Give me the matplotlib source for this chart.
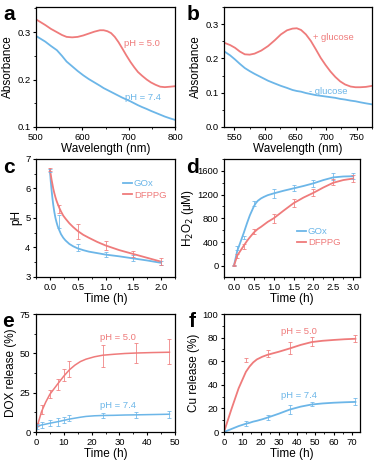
import numpy as np
import matplotlib
matplotlib.use('Agg')
import matplotlib.pyplot as plt
from matplotlib.ticker import AutoMinorLocator

plt.rcParams['font.family'] = ['Liberation Sans', 'DejaVu Sans']
plt.rcParams['axes.linewidth'] = 0.9

red = '#EF7B7B'
blue = '#6CB6E8'

# (a) absorbance vs wavelength, pH 5.0 / 7.4
a_wl = [500, 510, 520, 532, 545, 556, 566, 578, 590, 602, 614, 626, 638, 646, 654, 662, 670, 678,
        686, 695, 704, 712, 720, 729, 739, 748, 758, 768, 778, 790, 800]
a_ph50 = [0.327, 0.321, 0.315, 0.307, 0.300, 0.294, 0.290, 0.289, 0.290, 0.293, 0.297, 0.301, 0.304,
          0.304, 0.302, 0.298, 0.290, 0.279, 0.266, 0.251, 0.237, 0.226, 0.216, 0.208, 0.200, 0.194,
          0.189, 0.185, 0.184, 0.185, 0.186]
a_ph74 = [0.292, 0.286, 0.280, 0.271, 0.262, 0.250, 0.238, 0.228, 0.218, 0.209, 0.201, 0.194, 0.187,
          0.182, 0.178, 0.174, 0.170, 0.166, 0.162, 0.158, 0.154, 0.150, 0.146, 0.142, 0.138, 0.134,
          0.130, 0.126, 0.122, 0.118, 0.115]

# (b) absorbance vs wavelength, +/- glucose
b_wl = [533, 543, 551, 559, 567, 575, 583, 594, 605, 616, 626, 636, 645, 652, 659, 667, 675, 683,
        691, 699, 707, 715, 723, 731, 740, 748, 756, 765, 775]
b_plus = [0.246, 0.239, 0.231, 0.220, 0.212, 0.211, 0.214, 0.223, 0.236, 0.253, 0.270, 0.282, 0.287,
          0.288, 0.283, 0.270, 0.251, 0.227, 0.202, 0.181, 0.162, 0.146, 0.133, 0.124, 0.118, 0.116,
          0.116, 0.117, 0.120]
b_minus = [0.221, 0.209, 0.197, 0.184, 0.172, 0.163, 0.155, 0.145, 0.135, 0.127, 0.120, 0.114, 0.108,
           0.105, 0.103, 0.099, 0.096, 0.093, 0.091, 0.089, 0.087, 0.085, 0.082, 0.080, 0.077, 0.075,
           0.072, 0.069, 0.066]

# (c) pH vs time
c_t = [0.0, 0.17, 0.5, 1.0, 1.5, 2.0]
c_gox = [6.62, 4.89, 4.00, 3.76, 3.65, 3.48]
c_gox_err = [0.05, 0.22, 0.12, 0.08, 0.1, 0.07]
c_dfppg = [6.65, 5.30, 4.54, 4.07, 3.79, 3.52]
c_dfppg_err = [0.05, 0.14, 0.24, 0.15, 0.1, 0.12]
c_fit_t = [0.0, 0.015, 0.03, 0.045, 0.06, 0.08, 0.1, 0.12, 0.14, 0.17, 0.2, 0.24, 0.28, 0.35, 0.42,
           0.5, 0.6, 0.7, 0.85, 1.0, 1.25, 1.5, 1.75, 2.0]
c_fit_gox = [6.62, 6.25, 5.95, 5.68, 5.45, 5.2, 5.0, 4.85, 4.72, 4.58, 4.45, 4.33, 4.24, 4.12, 4.04,
             3.97, 3.91, 3.86, 3.81, 3.76, 3.70, 3.63, 3.56, 3.48]
c_fit_dfppg = [6.65, 6.47, 6.30, 6.15, 6.00, 5.84, 5.70, 5.58, 5.48, 5.34, 5.22, 5.08, 4.98, 4.82, 4.69,
               4.56, 4.43, 4.33, 4.19, 4.07, 3.91, 3.78, 3.65, 3.52]

# (d) H2O2 vs time
d_t = [0.0, 0.083, 0.25, 0.5, 1.0, 1.5, 2.0, 2.5, 3.0]
d_gox = [0, 300, 477, 1055, 1217, 1305, 1390, 1510, 1515]
d_gox_err = [10, 30, 30, 40, 70, 50, 60, 60, 50]
d_dfppg = [0, 163, 320, 572, 797, 1060, 1229, 1414, 1470]
d_dfppg_err = [10, 30, 40, 40, 80, 70, 60, 50, 60]
d_fit_t = [0.0, 0.083, 0.17, 0.25, 0.33, 0.4, 0.5, 0.55, 0.6, 0.68, 0.75, 0.85, 1.0, 1.25, 1.5, 1.75,
           2.0, 2.25, 2.5, 2.75, 3.0]
d_fit_gox = [0, 250, 410, 560, 720, 850, 1000, 1055, 1095, 1135, 1160, 1190, 1220, 1265, 1305, 1345,
             1390, 1445, 1490, 1505, 1510]
d_fit_dfppg = [0, 170, 260, 340, 420, 480, 560, 590, 620, 655, 690, 740, 800, 930, 1055, 1150,
               1230, 1320, 1400, 1445, 1470]

# (e) DOX release
e_t = [0.5, 2, 5, 8, 10, 12, 24, 36, 48]
e_ph50 = [4.5, 14.4, 24.2, 30.5, 36.2, 40.0, 48.4, 50.3, 51.0]
e_ph50_err = [1.0, 3.0, 2.5, 3.5, 4.0, 5.0, 7.0, 6.5, 8.0]
e_ph74 = [3.4, 4.5, 5.5, 6.6, 7.6, 8.9, 10.4, 10.6, 11.2]
e_ph74_err = [1.5, 2.0, 2.0, 2.5, 2.0, 2.0, 1.8, 2.0, 2.0]
e_fit_t = [0, 1, 2, 3.5, 5, 6.5, 8, 10, 12, 14, 16, 18, 21, 24, 28, 32, 36, 42, 48]
e_fit_ph50 = [0, 7, 13, 19, 24, 27.5, 31, 35.5, 39.5, 42.5, 44.8, 46.3, 47.8, 48.8, 49.4, 49.9,
              50.2, 50.5, 50.7]
e_fit_ph74 = [2, 3.8, 4.5, 5.0, 5.6, 6.1, 6.6, 7.4, 8.2, 8.8, 9.4, 9.9, 10.3, 10.5, 10.6, 10.8,
              10.9, 11.1, 11.3]

# (f) Cu release
f_t = [12, 24, 36, 48, 72]
f_ph50 = [61, 66.5, 71, 76.5, 79]
f_ph50_err = [2, 3, 5, 4, 3]
f_ph74 = [7.5, 12.2, 19, 23.7, 25.6]
f_ph74_err = [2, 2, 3.5, 2, 3]
f_fit_t = [0, 4, 8, 12, 14, 16, 18, 21, 24, 30, 36, 42, 48, 54, 60, 66, 72]
f_fit_ph50 = [0, 19, 37, 51, 55.5, 59, 61.5, 63.8, 65.5, 68, 70.8, 73.8, 76.2, 77.3, 78, 78.6, 79]
f_fit_ph74 = [0, 2.5, 5, 7, 7.8, 8.8, 9.5, 10.8, 12.3, 15.5, 19, 21.5, 23.3, 24.2, 24.8, 25.2, 25.5]

fig = plt.figure(figsize=(3.74, 4.63), dpi=100)
W, H = 374.0, 463.0


def make_ax(l, r, t, b):
    return fig.add_axes([l / W, 1 - b / H, (r - l) / W, (b - t) / H])


axa = make_ax(36, 175, 7, 127)
axb = make_ax(224, 372, 7, 127)
axc = make_ax(36, 175, 159, 277)
axd = make_ax(224, 360, 159, 277)
axe = make_ax(36, 175, 314, 432)
axf = make_ax(224, 360, 314, 432)

tick_fs = 6.8
lab_fs = 8.5

for ax in [axa, axb, axc, axd, axe, axf]:
    ax.tick_params(labelsize=tick_fs, length=2.5, width=0.8, pad=1.5)
    ax.tick_params(which='minor', length=1.5, width=0.6)
    ax.xaxis.set_minor_locator(AutoMinorLocator(2))
    ax.yaxis.set_minor_locator(AutoMinorLocator(2))

lw = 1.3

# (a)
axa.plot(a_wl, a_ph50, color=red, lw=lw)
axa.plot(a_wl, a_ph74, color=blue, lw=lw)
axa.set_xlim(500, 800)
axa.set_ylim(0.1, 0.353)
axa.set_xticks([500, 600, 700, 800])
axa.set_yticks([0.1, 0.2, 0.3])
axa.text(690, 0.277, 'pH = 5.0', color=red, fontsize=6.8, va='center')
axa.text(692, 0.162, 'pH = 7.4', color=blue, fontsize=6.8, va='center')
axa.set_xlabel('Wavelength (nm)', fontsize=lab_fs, labelpad=1)
axa.set_ylabel('Absorbance', fontsize=lab_fs, labelpad=2)

# (b)
axb.plot(b_wl, b_plus, color=red, lw=lw)
axb.plot(b_wl, b_minus, color=blue, lw=lw)
axb.set_xlim(533, 775)
axb.set_ylim(0.0, 0.35)
axb.set_xticks([550, 600, 650, 700, 750])
axb.set_yticks([0.0, 0.1, 0.2, 0.3])
axb.text(679, 0.26, '+ glucose', color=red, fontsize=6.8, va='center')
axb.text(672, 0.103, '- glucose', color=blue, fontsize=6.8, va='center')
axb.set_xlabel('Wavelength (nm)', fontsize=lab_fs, labelpad=1)
axb.set_ylabel('Absorbance', fontsize=lab_fs, labelpad=2)

eb = dict(fmt='none', elinewidth=0.7, capsize=1.6, capthick=0.7, alpha=0.8)

# (c)
axc.plot(c_fit_t, c_fit_gox, color=blue, lw=lw, label='GOx')
axc.plot(c_fit_t, c_fit_dfppg, color=red, lw=lw, label='DFPPG')
axc.errorbar(c_t, c_gox, yerr=c_gox_err, ecolor=blue, **eb)
axc.errorbar(c_t, c_dfppg, yerr=c_dfppg_err, ecolor=red, **eb)
axc.set_xlim(-0.25, 2.25)
axc.set_ylim(3, 7)
axc.set_xticks([0.0, 0.5, 1.0, 1.5, 2.0])
axc.set_yticks([3, 4, 5, 6, 7])
axc.legend(loc='upper right', bbox_to_anchor=(1.0, 0.9), frameon=False, fontsize=6.8,
           handlelength=1.0, handletextpad=0.2, labelspacing=0.25, labelcolor='linecolor')
axc.set_xlabel('Time (h)', fontsize=lab_fs, labelpad=1)
axc.set_ylabel('pH', fontsize=lab_fs, labelpad=2)

# (d)
axd.plot(d_fit_t, d_fit_gox, color=blue, lw=lw, label='GOx')
axd.plot(d_fit_t, d_fit_dfppg, color=red, lw=lw, label='DFPPG')
axd.errorbar(d_t, d_gox, yerr=d_gox_err, ecolor=blue, **eb)
axd.errorbar(d_t, d_dfppg, yerr=d_dfppg_err, ecolor=red, **eb)
axd.set_xlim(-0.25, 3.17)
axd.set_ylim(-190, 1800)
axd.set_xticks([0.0, 0.5, 1.0, 1.5, 2.0, 2.5, 3.0])
axd.set_yticks([0, 400, 800, 1200, 1600])
axd.legend(loc='lower right', bbox_to_anchor=(0.92, 0.18), frameon=False, fontsize=6.8,
           handlelength=1.0, handletextpad=0.2, labelspacing=0.25, labelcolor='linecolor')
axd.set_xlabel('Time (h)', fontsize=lab_fs, labelpad=1)
axd.set_ylabel('H$_2$O$_2$ (\u03bcM)', fontsize=lab_fs, labelpad=1)

# (e)
axe.plot(e_fit_t, e_fit_ph50, color=red, lw=lw * 0.85)
axe.plot(e_fit_t, e_fit_ph74, color=blue, lw=lw * 0.85)
axe.errorbar(e_t, e_ph50, yerr=e_ph50_err, ecolor=red, **eb)
axe.errorbar(e_t, e_ph74, yerr=e_ph74_err, ecolor=blue, **eb)
axe.set_xlim(0, 50)
axe.set_ylim(0, 75)
axe.set_xticks([0, 10, 20, 30, 40, 50])
axe.set_yticks([0, 25, 50, 75])
axe.text(23, 60, 'pH = 5.0', color=red, fontsize=6.8, va='center')
axe.text(23, 17, 'pH = 7.4', color=blue, fontsize=6.8, va='center')
axe.set_xlabel('Time (h)', fontsize=lab_fs, labelpad=1)
axe.set_ylabel('DOX release (%)', fontsize=lab_fs, labelpad=2)

# (f)
axf.plot(f_fit_t, f_fit_ph50, color=red, lw=lw)
axf.plot(f_fit_t, f_fit_ph74, color=blue, lw=lw)
axf.errorbar(f_t, f_ph50, yerr=f_ph50_err, ecolor=red, **eb)
axf.errorbar(f_t, f_ph74, yerr=f_ph74_err, ecolor=blue, **eb)
axf.set_xlim(0, 74.5)
axf.set_ylim(0, 100)
axf.set_xticks([0, 10, 20, 30, 40, 50, 60, 70])
axf.set_yticks([0, 20, 40, 60, 80, 100])
axf.text(31, 85, 'pH = 5.0', color=red, fontsize=6.8, va='center')
axf.text(31, 31, 'pH = 7.4', color=blue, fontsize=6.8, va='center')
axf.set_xlabel('Time (h)', fontsize=lab_fs, labelpad=1)
axf.set_ylabel('Cu release (%)', fontsize=lab_fs, labelpad=2)

# panel letters
for lab, x, y in [('a', 3, 20), ('b', 187, 20), ('c', 3, 173), ('d', 186, 173),
                  ('e', 2, 327), ('f', 189, 327)]:
    fig.text(x / W, 1 - y / H, lab, fontsize=15, fontweight='bold', va='baseline')

fig.savefig('out.png', dpi=100)
